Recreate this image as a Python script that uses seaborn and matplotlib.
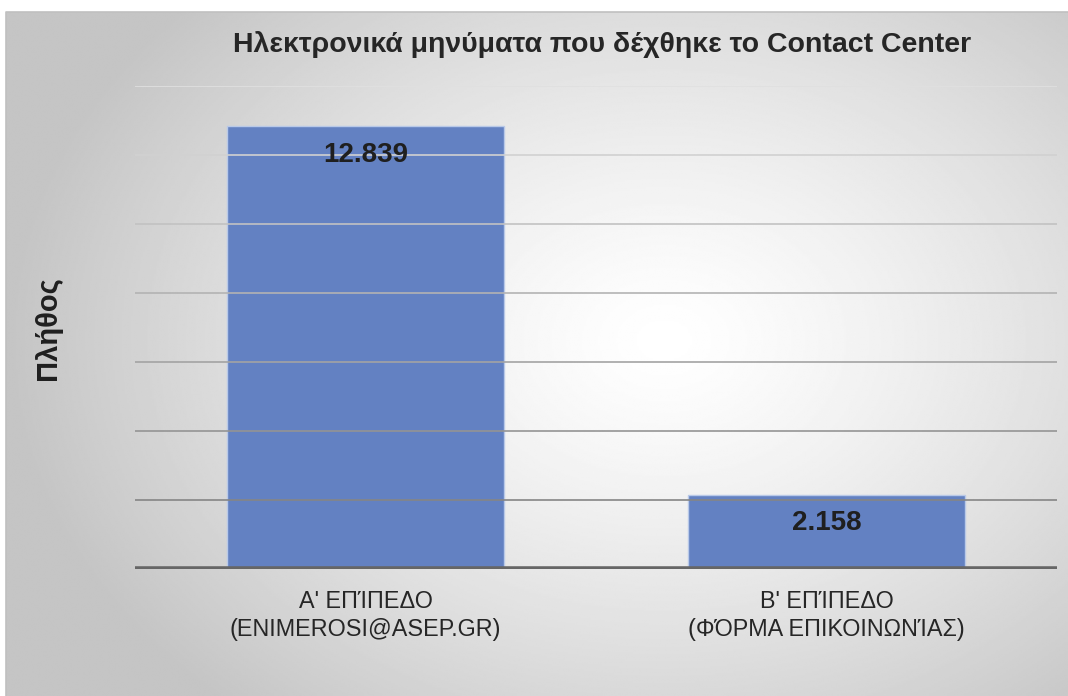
import numpy as np
import pandas as pd
import seaborn as sns
import matplotlib.pyplot as plt

# Data
categories = ["Α' ΕΠΊΠΕΔΟ\n(ENIMEROSI@ASEP.GR)", "Β' ΕΠΊΠΕΔΟ\n(ΦΌΡΜΑ ΕΠΙΚΟΙΝΩΝΊΑΣ)"]
values = [12839, 2158]
value_labels = ["12.839", "2.158"]
grid_ticks = [2000, 4000, 6000, 8000, 10000, 12000, 14000]

title = "Ηλεκτρονικά μηνύματα που δέχθηκε το Contact Center"
ylabel = "Πλήθος"

sns.set_theme(style="white")
plt.rcParams['font.family'] = ['Liberation Sans', 'DejaVu Sans']

W, H = 1068, 696
fig = plt.figure(figsize=(W / 100, H / 100), dpi=100)
fig.patch.set_facecolor("white")

# Radial gradient background panel
bg = fig.add_axes([6 / W, 0, 1 - 6 / W, (H - 12) / H], zorder=0)
yy, xx = np.mgrid[0:1:400j, 0:1:600j]
d = np.sqrt(((xx - 0.62) / 0.62) ** 2 + ((yy - 0.52) / 0.72) ** 2)
d = np.clip(d, 0, 1)
shade = 1 - 0.23 * d ** 1.3
bg.imshow(shade, cmap="gray", vmin=0, vmax=1, extent=[0, 1, 0, 1],
          aspect="auto", origin="lower", interpolation="bilinear")
bg.set_xlim(0, 1)
bg.set_ylim(0, 1)
bg.axis("off")
bg.plot([0, 0, 1], [0, 1, 1], color="#c0c0c0", lw=1.2, transform=bg.transAxes, clip_on=False)

# Main axes
ax = fig.add_axes([135 / W, (H - 569) / H, (1057 - 135) / W, (569 - 86) / H], zorder=1)
ax.set_facecolor("none")

df = pd.DataFrame({"cat": categories, "val": values})
sns.barplot(data=df, x="cat", y="val", color="#6381c2", saturation=1,
            width=0.6, edgecolor="#b9c9e8", linewidth=1.0, ax=ax, zorder=2)

ax.set_ylim(0, 14000)
ax.set_xlim(-0.5, 1.5)

# gridlines, lighter toward the top
for i, t in enumerate(grid_ticks):
    frac = i / (len(grid_ticks) - 1)
    c = 0.52 + 0.36 * frac
    ax.axhline(t, color=(c, c, c), lw=1.4, alpha=0.85, zorder=3)

ax.axhline(0, color="#666666", lw=4, zorder=4)

for i, (v, lab) in enumerate(zip(values, value_labels)):
    ax.annotate(lab, xy=(i, v), xytext=(0, -20.5), textcoords="offset points",
                ha="center", va="center", fontsize=20, fontweight="bold",
                color="#1f1f1f", zorder=5)

for s in ax.spines.values():
    s.set_visible(False)
ax.set_yticks([])
ax.set_xlabel("")
ax.set_ylabel("")
ax.tick_params(axis="x", length=0, pad=15, labelsize=16.8, labelcolor="#262626")
for t in ax.get_xticklabels():
    t.set_linespacing(1.3)

fig.text(602 / W, (H - 45) / H, title, ha="center", va="center",
         fontsize=20.5, fontweight="bold", color="#262626")
fig.text(48 / W, (H - 328) / H, ylabel, ha="center", va="center", rotation=90,
         fontsize=21, fontweight="bold", color="#1f1f1f")

fig.savefig("out.png", dpi=100)
